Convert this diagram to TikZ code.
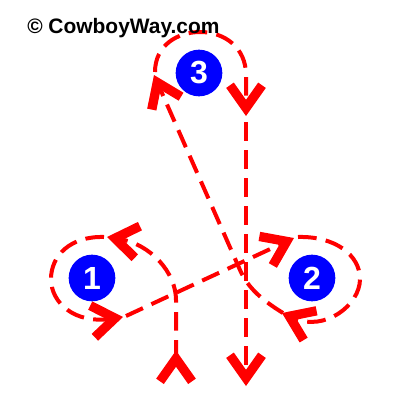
\documentclass[tikz,border=0pt]{standalone}
\usepackage{fontspec}
\setmainfont{Liberation Sans}
\usetikzlibrary{arrows.meta}

\begin{document}
\begin{tikzpicture}[x=0.75pt,y=0.75pt,yscale=-1,
  barrel/.style={circle,fill={rgb, 255:red, 0; green, 0; blue, 255 },minimum size=35pt,inner sep=0pt,text=white,font=\fontsize{24}{24}\selectfont\bfseries},
  trail/.style={color={rgb, 255:red, 255; green, 0; blue, 0 },line width=3pt,dash pattern=on 14pt off 7pt},
  >={Straight Barb[length=17pt,width=24pt,line width=7pt]}]
\useasboundingbox (0,0) rectangle (400,400);

%Shape: Circle [barrel 1]
\node [barrel] (b1) at (92,278) {1};
%Shape: Circle [barrel 2]
\node [barrel] (b2) at (312,278) {2};
%Shape: Circle [barrel 3]
\node [barrel] (b3) at (199,73) {3};

%Curve Lines [start to barrel 1]
\draw [trail,{Straight Barb[length=17pt,width=24pt,line width=7pt,reversed]}->] (176,386) -- (176,300) .. controls (176,272) and (150,244) .. (107,237) ;
%Curve Lines [round barrel 1]
\draw [trail,->] (104,237) .. controls (70,236) and (51,256) .. (51,279) .. controls (51,303) and (75,324) .. (123,317) ;
%Straight Lines [barrel 1 to barrel 2]
\draw [trail,->] (126,316) -- (294,238) ;
%Curve Lines [round barrel 2]
\draw [trail,->] (298,237) .. controls (335,236) and (360,255) .. (360,279) .. controls (360,305) and (325,332) .. (282,313) ;
%Curve Lines [barrel 2 to barrel 3]
\draw [trail,->] (283,313) .. controls (262,300) and (248,288) .. (240,270) -- (154,75) ;
%Curve Lines [round barrel 3]
\draw [trail,->] (155,72) .. controls (155,45) and (178,32) .. (200,32) .. controls (225,32) and (246,48) .. (246,75) -- (246,116) ;
%Straight Lines [home]
\draw [trail,->] (246,122) -- (246,386) ;

% Text Node
\node [anchor=base west,inner sep=0pt,font=\fontsize{15.7}{15.7}\selectfont\bfseries] (mark) at (27,33) {© CowboyWay.com};

\end{tikzpicture}
\end{document}
